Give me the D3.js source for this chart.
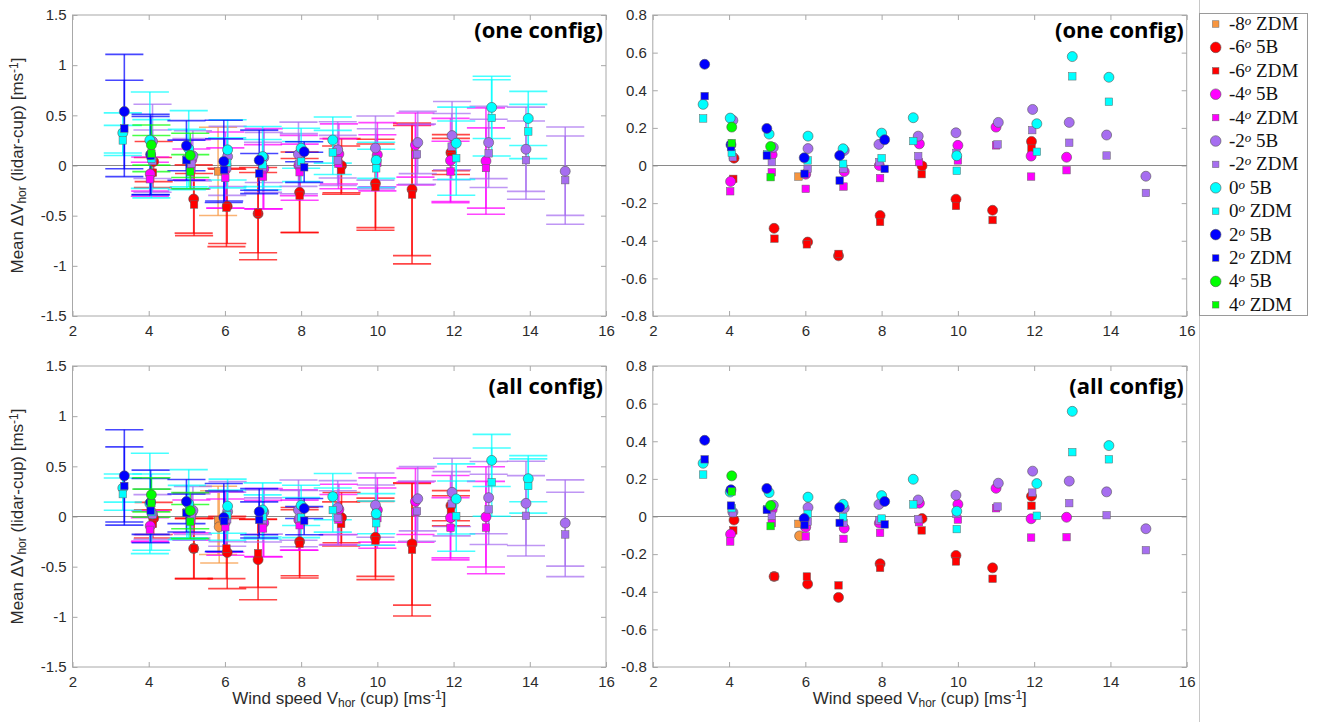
<!DOCTYPE html>
<html><head><meta charset="utf-8">
<script src="https://cdn.jsdelivr.net/npm/d3@7"></script>
<style>
body{margin:0;background:#fff;}
svg{display:block;font-family:"Liberation Sans",Arial,sans-serif;}
</style>
</head><body>
<svg id="c" width="1317" height="722"></svg>
<script>
// ---------- tick labels ----------
const xTicks = [2, 4, 6, 8, 10, 12, 14, 16];
const yTicksWide = [-1.5, -1, -0.5, 0, 0.5, 1, 1.5];
const yTicksNarrow = [-0.8, -0.6, -0.4, -0.2, 0, 0.2, 0.4, 0.6, 0.8];
const panelTitles = ["(one config)", "(one config)", "(all config)", "(all config)"];

// ---------- data: x = wind speed bin (cup), one/all = mean ΔV, *Err = error bar half-length ----------
const m8Z_x = [5.82], m8Z_one = [-0.059], m8Z_oneErr = [0.44], m8Z_all = [-0.039], m8Z_allErr = [0.34];
const m8B_x = [5.85], m8B_one = [null], m8B_oneErr = [null], m8B_all = [-0.103], m8B_allErr = [0.36];

const m6B_x = [4.13, 5.18, 6.06, 6.87, 7.96, 9.06, 9.95, 10.91, 11.93];
const m6B_one = [0.039, -0.334, -0.407, -0.48, -0.266, -0.002, -0.179, -0.238, 0.128];
const m6B_oneErr = [0.2, 0.34, 0.37, 0.46, 0.4, 0.27, 0.44, 0.66, 0.18];
const m6B_all = [-0.019, -0.319, -0.359, -0.43, -0.251, -0.011, -0.207, -0.273, 0.108];
const m6B_allErr = [0.16, 0.3, 0.36, 0.4, 0.34, 0.25, 0.39, 0.61, 0.15];

const m6Z_x = [4.11, 5.19, 6.04, 6.87, 7.96, 9.05, 9.95, 10.91, 11.93];
const m6Z_one = [-0.071, -0.389, -0.419, -0.47, -0.30, -0.046, -0.215, -0.29, 0.09];
const m6Z_oneErr = [0.15, 0.31, 0.39, 0.4, 0.37, 0.24, 0.43, 0.69, 0.18];
const m6Z_all = [-0.074, -0.319, -0.319, -0.366, -0.273, -0.074, -0.239, -0.331, 0.057];
const m6Z_allErr = [0.14, 0.3, 0.3, 0.34, 0.34, 0.22, 0.39, 0.66, 0.15];

const m4B_x = [4.04, 5.13, 6.01, 7.02, 7.94, 8.99, 10.0, 11.0, 11.92, 12.85];
const m4B_one = [-0.085, 0.057, -0.046, -0.032, 0.0, 0.115, 0.107, 0.204, 0.05, 0.044];
const m4B_oneErr = [0.17, 0.2, 0.38, 0.4, 0.3, 0.3, 0.32, 0.32, 0.42, 0.53];
const m4B_all = [-0.094, 0.037, -0.057, -0.062, -0.035, 0.071, 0.065, 0.15, -0.012, -0.004];
const m4B_allErr = [0.15, 0.2, 0.3, 0.34, 0.3, 0.25, 0.32, 0.33, 0.42, 0.5];

const m4Z_x = [4.03, 5.12, 6.01, 7.0, 7.96, 8.98, 10.0, 11.0, 11.92, 12.85];
const m4Z_one = [-0.137, -0.036, -0.124, -0.112, -0.067, 0.018, 0.027, 0.107, -0.059, -0.025];
const m4Z_oneErr = [0.17, 0.2, 0.3, 0.32, 0.28, 0.25, 0.28, 0.3, 0.3, 0.4];
const m4Z_all = [-0.133, -0.035, -0.106, -0.119, -0.087, -0.03, -0.016, 0.044, -0.112, -0.11];
const m4Z_allErr = [0.12, 0.2, 0.28, 0.28, 0.25, 0.25, 0.3, 0.3, 0.3, 0.46];

const m2B_x = [4.1, 5.16, 6.07, 7.02, 7.93, 8.96, 9.95, 11.06, 11.96, 12.92, 13.9, 14.93];
const m2B_one = [0.24, 0.096, 0.09, 0.08, 0.112, 0.156, 0.174, 0.229, 0.298, 0.229, 0.162, -0.057];
const m2B_oneErr = [0.37, 0.25, 0.3, 0.25, 0.32, 0.28, 0.32, 0.31, 0.34, 0.36, 0.42, 0.44];
const m2B_all = [0.023, 0.06, 0.048, 0.044, 0.064, 0.088, 0.113, 0.177, 0.241, 0.188, 0.131, -0.065];
const m2B_allErr = [0.25, 0.24, 0.3, 0.22, 0.3, 0.27, 0.32, 0.32, 0.34, 0.36, 0.42, 0.43];

const m2Z_x = [4.1, 5.12, 6.06, 7.0, 7.94, 8.96, 9.96, 11.04, 11.95, 12.92, 13.9, 14.93];
const m2Z_one = [0.044, 0.018, -0.018, -0.018, 0.018, 0.05, 0.067, 0.112, 0.188, 0.121, 0.053, -0.146];
const m2Z_oneErr = [0.31, 0.25, 0.28, 0.25, 0.3, 0.25, 0.3, 0.3, 0.33, 0.34, 0.39, 0.44];
const m2Z_all = [0.018, 0.005, -0.027, -0.034, -0.021, -0.014, 0.014, 0.053, 0.127, 0.071, 0.007, -0.179];
const m2Z_allErr = [0.2, 0.22, 0.27, 0.22, 0.28, 0.27, 0.3, 0.3, 0.32, 0.35, 0.4, 0.42];

const p0B_x = [3.32, 4.03, 5.05, 6.07, 6.99, 8.0, 8.83, 9.97, 12.07, 13.0, 13.96];
const p0B_one = [0.325, 0.252, 0.167, 0.156, 0.089, 0.172, 0.254, 0.052, 0.222, 0.579, 0.469];
const p0B_oneErr = [0.2, 0.48, 0.38, 0.3, 0.3, 0.2, 0.23, 0.18, 0.36, 0.31, 0.27];
const p0B_all = [0.283, 0.13, 0.127, 0.103, 0.065, 0.111, 0.198, 0.028, 0.175, 0.559, 0.377];
const p0B_allErr = [0.14, 0.5, 0.34, 0.27, 0.27, 0.2, 0.23, 0.2, 0.35, 0.26, 0.23];

const p0Z_x = [3.32, 4.07, 5.0, 6.06, 6.99, 8.0, 8.83, 9.97, 12.07, 13.0, 13.96];
const p0Z_one = [0.25, 0.067, 0.06, 0.027, 0.009, 0.039, 0.13, -0.028, 0.073, 0.474, 0.339];
const p0Z_oneErr = [0.15, 0.39, 0.3, 0.25, 0.25, 0.2, 0.22, 0.19, 0.37, 0.38, 0.27];
const p0Z_all = [0.223, 0.044, 0.04, 0.014, -0.004, -0.011, 0.064, -0.067, 0.004, 0.342, 0.304];
const p0Z_allErr = [0.16, 0.38, 0.27, 0.25, 0.22, 0.2, 0.22, 0.22, 0.35, 0.34, 0.27];

const p2B_x = [3.36, 4.05, 4.99, 5.97, 6.9, 8.08];
const p2B_one = [0.538, 0.11, 0.197, 0.041, 0.053, 0.137];
const p2B_oneErr = [0.57, 0.4, 0.25, 0.41, 0.3, 0.1];
const p2B_all = [0.405, 0.142, 0.149, -0.011, 0.048, 0.08];
const p2B_allErr = [0.46, 0.32, 0.22, 0.34, 0.23, 0.1];

const p2Z_x = [3.36, 4.05, 4.99, 5.98, 6.9, 8.08];
const p2Z_one = [0.369, 0.098, 0.053, -0.044, -0.08, -0.018];
const p2Z_oneErr = [0.48, 0.39, 0.2, 0.31, 0.2, 0.15];
const p2Z_all = [0.304, 0.058, 0.035, -0.046, -0.034, -0.042];
const p2Z_allErr = [0.39, 0.32, 0.19, 0.3, 0.18, 0.14];

const p4B_x = [4.07, 5.09];
const p4B_one = [0.204, 0.101], p4B_oneErr = [0.2, 0.22];
const p4B_all = [0.216, 0.058], p4B_allErr = [0.17, 0.18];

const p4Z_x = [4.07, 5.09];
const p4Z_one = [0.119, -0.062], p4Z_oneErr = [0.18, 0.17];
const p4Z_all = [0.133, -0.051], p4Z_allErr = [0.14, 0.17];

// ---------- series table built from the arrays ----------
const series = [
  {ang:"-8", kind:"ZDM", color:"#F7953F", shape:"square", legend:true,  x:m8Z_x, one:m8Z_one, oneErr:m8Z_oneErr, all:m8Z_all, allErr:m8Z_allErr},
  {ang:"-8", kind:"5B",  color:"#F7953F", shape:"circle", legend:false, x:m8B_x, one:m8B_one, oneErr:m8B_oneErr, all:m8B_all, allErr:m8B_allErr},
  {ang:"-6", kind:"5B",  color:"#FF0000", shape:"circle", legend:true,  x:m6B_x, one:m6B_one, oneErr:m6B_oneErr, all:m6B_all, allErr:m6B_allErr},
  {ang:"-6", kind:"ZDM", color:"#FF0000", shape:"square", legend:true,  x:m6Z_x, one:m6Z_one, oneErr:m6Z_oneErr, all:m6Z_all, allErr:m6Z_allErr},
  {ang:"-4", kind:"5B",  color:"#FF00FF", shape:"circle", legend:true,  x:m4B_x, one:m4B_one, oneErr:m4B_oneErr, all:m4B_all, allErr:m4B_allErr},
  {ang:"-4", kind:"ZDM", color:"#FF00FF", shape:"square", legend:true,  x:m4Z_x, one:m4Z_one, oneErr:m4Z_oneErr, all:m4Z_all, allErr:m4Z_allErr},
  {ang:"-2", kind:"5B",  color:"#A66EF0", shape:"circle", legend:true,  x:m2B_x, one:m2B_one, oneErr:m2B_oneErr, all:m2B_all, allErr:m2B_allErr},
  {ang:"-2", kind:"ZDM", color:"#A66EF0", shape:"square", legend:true,  x:m2Z_x, one:m2Z_one, oneErr:m2Z_oneErr, all:m2Z_all, allErr:m2Z_allErr},
  {ang:"0",  kind:"5B",  color:"#00FFFF", shape:"circle", legend:true,  x:p0B_x, one:p0B_one, oneErr:p0B_oneErr, all:p0B_all, allErr:p0B_allErr},
  {ang:"0",  kind:"ZDM", color:"#00FFFF", shape:"square", legend:true,  x:p0Z_x, one:p0Z_one, oneErr:p0Z_oneErr, all:p0Z_all, allErr:p0Z_allErr},
  {ang:"2",  kind:"5B",  color:"#0000FF", shape:"circle", legend:true,  x:p2B_x, one:p2B_one, oneErr:p2B_oneErr, all:p2B_all, allErr:p2B_allErr},
  {ang:"2",  kind:"ZDM", color:"#0000FF", shape:"square", legend:true,  x:p2Z_x, one:p2Z_one, oneErr:p2Z_oneErr, all:p2Z_all, allErr:p2Z_allErr},
  {ang:"4",  kind:"5B",  color:"#00FF00", shape:"circle", legend:true,  x:p4B_x, one:p4B_one, oneErr:p4B_oneErr, all:p4B_all, allErr:p4B_allErr},
  {ang:"4",  kind:"ZDM", color:"#00FF00", shape:"square", legend:true,  x:p4Z_x, one:p4Z_one, oneErr:p4Z_oneErr, all:p4Z_all, allErr:p4Z_allErr},
];

// ---------- layout ----------
const panels = [
  {x0:72.5, x1:606,    y0:15,  y1:316, dom:[-1.5,1.5], ticks:yTicksWide,   key:"one", err:true,  title:panelTitles[0], ylab:true,  xlab:false, tdy:23},
  {x0:652.8,x1:1186.7, y0:15,  y1:316, dom:[-0.8,0.8], ticks:yTicksNarrow, key:"one", err:false, title:panelTitles[1], ylab:false, xlab:false, tdy:23},
  {x0:72.5, x1:606,    y0:366, y1:667, dom:[-1.5,1.5], ticks:yTicksWide,   key:"all", err:true,  title:panelTitles[2], ylab:true,  xlab:true,  tdy:28},
  {x0:652.8,x1:1186.7, y0:366, y1:667, dom:[-0.8,0.8], ticks:yTicksNarrow, key:"all", err:false, title:panelTitles[3], ylab:false, xlab:true,  tdy:28},
];

const svg = d3.select("#c");
const fmt = d => String(d);
const boxColor = "#a8a8a8", textColor = "#2b2b2b";

function drawMarker(sel, shape, color, cx, cy, r, sq) {
  if (shape === "circle") {
    sel.append("circle").attr("cx", cx).attr("cy", cy).attr("r", r)
      .attr("fill", color).attr("stroke", "#555").attr("stroke-width", 0.6);
  } else {
    sel.append("rect").attr("x", cx - sq/2).attr("y", cy - sq/2).attr("width", sq).attr("height", sq)
      .attr("fill", color).attr("stroke", "#666").attr("stroke-width", 0.5);
  }
}

panels.forEach(p => {
  const x = d3.scaleLinear().domain([2, 16]).range([p.x0, p.x1]);
  const y = d3.scaleLinear().domain(p.dom).range([p.y1, p.y0]);
  const g = svg.append("g");

  g.append("rect").attr("x", p.x0).attr("y", p.y0).attr("width", p.x1 - p.x0).attr("height", p.y1 - p.y0)
    .attr("fill", "none").attr("stroke", boxColor).attr("stroke-width", 1);

  const styleAxis = a => {
    a.select(".domain").remove();
    a.selectAll(".tick line").attr("stroke", boxColor);
    a.selectAll(".tick text").attr("fill", textColor).style("font-size", "15px")
      .style("font-family", '"Liberation Sans", Arial, sans-serif');
  };
  g.append("g").attr("transform", `translate(0,${p.y1})`)
    .call(d3.axisBottom(x).tickValues(xTicks).tickSize(-5).tickPadding(9).tickFormat(fmt)).call(styleAxis);
  g.append("g").attr("transform", `translate(0,${p.y0})`)
    .call(d3.axisTop(x).tickValues(xTicks).tickSize(-5).tickFormat("")).call(styleAxis);
  g.append("g").attr("transform", `translate(${p.x0},0)`)
    .call(d3.axisLeft(y).tickValues(p.ticks).tickSize(-5).tickPadding(6).tickFormat(fmt)).call(styleAxis);
  g.append("g").attr("transform", `translate(${p.x1},0)`)
    .call(d3.axisRight(y).tickValues(p.ticks).tickSize(-5).tickFormat("")).call(styleAxis);

  g.append("line").attr("x1", p.x0).attr("x2", p.x1).attr("y1", y(0)).attr("y2", y(0))
    .attr("stroke", "#8a8a8a").attr("stroke-width", 1);

  if (p.err) {
    const eg = g.append("g");
    series.forEach(s => {
      const vals = s[p.key], errs = s[p.key + "Err"];
      s.x.forEach((xv, i) => {
        const v = vals[i], e = errs[i];
        if (v == null || e == null) return;
        const bg = eg.append("g").attr("stroke", s.color).attr("stroke-width", 1.6).attr("stroke-opacity", 0.72);
        bg.append("line").attr("x1", x(xv)).attr("x2", x(xv)).attr("y1", y(v - e)).attr("y2", y(v + e));
        [v - e, v + e].forEach(c => {
          bg.append("line").attr("x1", x(xv - 0.5)).attr("x2", x(xv + 0.5)).attr("y1", y(c)).attr("y2", y(c));
        });
      });
    });
  }

  const mg = g.append("g");
  series.forEach(s => {
    const vals = s[p.key];
    s.x.forEach((xv, i) => {
      if (vals[i] == null) return;
      drawMarker(mg, s.shape, s.color, x(xv), y(vals[i]), 5, 7.5);
    });
  });

  g.append("text").attr("x", p.x1 - 3).attr("y", p.y0 + p.tdy).attr("text-anchor", "end")
    .style("font-family", '"Open Sans", Lato, sans-serif').style("font-weight", 700).style("font-size", "22px")
    .attr("fill", "#000").text(p.title);

  if (p.ylab) {
    const t = g.append("text").attr("transform", `translate(23,${(p.y0 + p.y1) / 2}) rotate(-90)`)
      .attr("text-anchor", "middle").attr("fill", textColor).style("font-size", "17px");
    t.append("tspan").text("Mean \u0394V");
    t.append("tspan").attr("baseline-shift", "-25%").style("font-size", "12px").text("hor");
    t.append("tspan").text(" (lidar-cup) [ms");
    t.append("tspan").attr("baseline-shift", "40%").style("font-size", "12px").text("-1");
    t.append("tspan").text("]");
  }
  if (p.xlab) {
    const t = g.append("text").attr("x", (p.x0 + p.x1) / 2).attr("y", 704)
      .attr("text-anchor", "middle").attr("fill", textColor).style("font-size", "17px");
    t.append("tspan").text("Wind speed V");
    t.append("tspan").attr("baseline-shift", "-25%").style("font-size", "12px").text("hor");
    t.append("tspan").text(" (cup) [ms");
    t.append("tspan").attr("baseline-shift", "40%").style("font-size", "12px").text("-1");
    t.append("tspan").text("]");
  }
});

// ---------- legend ----------
svg.append("line").attr("x1", 1199.5).attr("x2", 1199.5).attr("y1", 0).attr("y2", 722)
  .attr("stroke", "#c8c8c8").attr("stroke-width", 1);
svg.append("rect").attr("x", 1199.5).attr("y", 13.5).attr("width", 108).attr("height", 302)
  .attr("fill", "#fff").attr("stroke", "#9a9a9a").attr("stroke-width", 1);
const lg = svg.append("g");
series.filter(s => s.legend).forEach((s, i) => {
  const cy = 24 + i * 23.4;
  drawMarker(lg, s.shape, s.color, 1215.7, cy, 5.3, 6.5);
  const t = lg.append("text").attr("x", 1229).attr("y", cy + 6)
    .style("font-family", '"Liberation Serif", "Times New Roman", serif').style("font-size", "19px").attr("fill", "#111");
  t.append("tspan").text(s.ang);
  t.append("tspan").attr("baseline-shift", "40%").style("font-size", "13px").style("font-style", "italic").text("o");
  t.append("tspan").text(" " + s.kind);
});
</script>
</body></html>
